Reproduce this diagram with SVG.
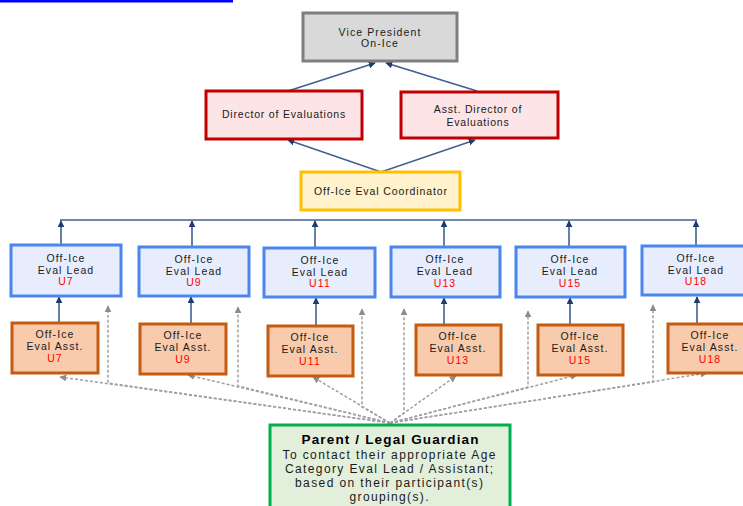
<svg xmlns="http://www.w3.org/2000/svg" width="743" height="506" viewBox="0 0 743 506">
<defs>
<marker id="ah" viewBox="0 0 10 10" refX="9" refY="5" markerWidth="7" markerHeight="7" markerUnits="userSpaceOnUse" orient="auto">
<path d="M0,0 L10,5 L0,10 z" fill="#1f3a6e"/>
</marker>
<marker id="ahg" viewBox="0 0 10 10" refX="9" refY="5" markerWidth="7" markerHeight="7" markerUnits="userSpaceOnUse" orient="auto">
<path d="M0,0 L10,5 L0,10 z" fill="#8c8c8c"/>
</marker>
<style>
text{font-family:"Liberation Sans",Arial,sans-serif;font-size:10.5px;fill:#1a1a1a;text-anchor:middle;letter-spacing:1.1px}
.red{fill:#ff0000}
.vp{fill:#d9d9d9;stroke:#7f7f7f;stroke-width:3}
.dir{fill:#fde4e6;stroke:#c00000;stroke-width:3}
.coord{fill:#fff2cc;stroke:#ffc000;stroke-width:3}
.lead{fill:#e7edfc;stroke:#4a86f0;stroke-width:3}
.asst{fill:#f8cbad;stroke:#c55a11;stroke-width:3}
.par{fill:#e2efda;stroke:#00b050;stroke-width:3}
.c{fill:none;stroke:#41618f;stroke-width:1.6}
.d{fill:none;stroke:#a0a0a0;stroke-width:1.5;stroke-dasharray:3 2}
.pt{font-size:12px;letter-spacing:0}
.pb{font-size:13.5px;font-weight:bold;fill:#000;letter-spacing:0}
</style>
</defs>
<rect x="0" y="0" width="233" height="2.5" fill="#0000ff"/>

<g id="connectors">
<path class="c" d="M288,91 L375,63" marker-end="url(#ah)"/>
<path class="c" d="M477,91 L386,63" marker-end="url(#ah)"/>
<path class="c" d="M381,172 L288,140" marker-end="url(#ah)"/>
<path class="c" d="M381,172 L475,140" marker-end="url(#ah)"/>
<path class="c" d="M60,220 L697,220"/>
<path class="c" d="M61,245 L61,221" marker-end="url(#ah)"/>
<path class="c" d="M192,247 L192,221" marker-end="url(#ah)"/>
<path class="c" d="M315,248 L315,221" marker-end="url(#ah)"/>
<path class="c" d="M444,247 L444,221" marker-end="url(#ah)"/>
<path class="c" d="M569,247 L569,221" marker-end="url(#ah)"/>
<path class="c" d="M696,246 L696,221" marker-end="url(#ah)"/>
<path class="c" d="M59,323 L59,297" marker-end="url(#ah)"/>
<path class="c" d="M191,324 L191,297" marker-end="url(#ah)"/>
<path class="c" d="M316,326 L316,298" marker-end="url(#ah)"/>
<path class="c" d="M444,325 L444,298" marker-end="url(#ah)"/>
<path class="c" d="M570,325 L570,298" marker-end="url(#ah)"/>
<path class="c" d="M697,324 L697,297" marker-end="url(#ah)"/>
<path class="d" d="M390,423 L60,377" marker-end="url(#ahg)"/>
<path class="d" d="M390,423 L108,383 L108,306" marker-end="url(#ahg)"/>
<path class="d" d="M390,423 L188,375" marker-end="url(#ahg)"/>
<path class="d" d="M390,423 L238,386 L238,307" marker-end="url(#ahg)"/>
<path class="d" d="M390,423 L313,377" marker-end="url(#ahg)"/>
<path class="d" d="M390,423 L362,407 L362,309" marker-end="url(#ahg)"/>
<path class="d" d="M390,423 L456,376" marker-end="url(#ahg)"/>
<path class="d" d="M390,423 L404,413 L404,309" marker-end="url(#ahg)"/>
<path class="d" d="M390,423 L577,375" marker-end="url(#ahg)"/>
<path class="d" d="M390,423 L528,387 L528,311" marker-end="url(#ahg)"/>
<path class="d" d="M390,423 L707,373" marker-end="url(#ahg)"/>
<path class="d" d="M390,423 L653,382 L653,305" marker-end="url(#ahg)"/>
</g>

<g id="vp">
<rect class="vp" x="303" y="13" width="154" height="48"/>
<text x="380" y="36">Vice President</text>
<text x="380" y="47">On-Ice</text>
</g>
<g id="director">
<rect class="dir" x="206" y="91" width="156" height="48"/>
<text x="284" y="118" style="letter-spacing:0.8px">Director of Evaluations</text>
</g>
<g id="asst-director">
<rect class="dir" x="401" y="92" width="157" height="46"/>
<text x="478" y="113" style="letter-spacing:0.8px">Asst. Director of</text>
<text x="478" y="126" style="letter-spacing:0.8px">Evaluations</text>
</g>
<g id="coordinator">
<rect class="coord" x="301" y="172" width="159" height="38"/>
<text x="381" y="195" style="letter-spacing:0.9px">Off-Ice Eval Coordinator</text>
</g>

<g id="lead-u7">
<rect class="lead" x="11" y="245" width="110" height="51"/>
<text x="66" y="262">Off-Ice</text><text x="66" y="274">Eval Lead</text><text class="red" x="66" y="285">U7</text>
</g>
<g id="lead-u9">
<rect class="lead" x="139" y="247" width="110" height="49"/>
<text x="194" y="263">Off-Ice</text><text x="194" y="275">Eval Lead</text><text class="red" x="194" y="286">U9</text>
</g>
<g id="lead-u11">
<rect class="lead" x="264" y="248" width="111" height="49"/>
<text x="320" y="264">Off-Ice</text><text x="320" y="276">Eval Lead</text><text class="red" x="320" y="287">U11</text>
</g>
<g id="lead-u13">
<rect class="lead" x="391" y="247" width="109" height="50"/>
<text x="445" y="263">Off-Ice</text><text x="445" y="275">Eval Lead</text><text class="red" x="445" y="287">U13</text>
</g>
<g id="lead-u15">
<rect class="lead" x="516" y="247" width="109" height="50"/>
<text x="570" y="263">Off-Ice</text><text x="570" y="275">Eval Lead</text><text class="red" x="570" y="287">U15</text>
</g>
<g id="lead-u18">
<rect class="lead" x="642" y="246" width="110" height="49"/>
<text x="696" y="262">Off-Ice</text><text x="696" y="274">Eval Lead</text><text class="red" x="696" y="285">U18</text>
</g>

<g id="asst-u7">
<rect class="asst" x="12" y="323" width="86" height="50"/>
<text x="55" y="338">Off-Ice</text><text x="55" y="350">Eval Asst.</text><text class="red" x="55" y="362">U7</text>
</g>
<g id="asst-u9">
<rect class="asst" x="140" y="324" width="86" height="50"/>
<text x="183" y="339">Off-Ice</text><text x="183" y="351">Eval Asst.</text><text class="red" x="183" y="363">U9</text>
</g>
<g id="asst-u11">
<rect class="asst" x="268" y="326" width="85" height="50"/>
<text x="310" y="341">Off-Ice</text><text x="310" y="353">Eval Asst.</text><text class="red" x="310" y="365">U11</text>
</g>
<g id="asst-u13">
<rect class="asst" x="416" y="325" width="85" height="50"/>
<text x="458" y="340">Off-Ice</text><text x="458" y="352">Eval Asst.</text><text class="red" x="458" y="364">U13</text>
</g>
<g id="asst-u15">
<rect class="asst" x="538" y="325" width="85" height="50"/>
<text x="580" y="340">Off-Ice</text><text x="580" y="352">Eval Asst.</text><text class="red" x="580" y="364">U15</text>
</g>
<g id="asst-u18">
<rect class="asst" x="668" y="324" width="85" height="49"/>
<text x="710" y="339">Off-Ice</text><text x="710" y="351">Eval Asst.</text><text class="red" x="710" y="363">U18</text>
</g>

<g id="parent">
<rect class="par" x="270" y="425" width="240" height="90"/>
<text class="pb" x="390" y="444" textLength="177" lengthAdjust="spacing">Parent / Legal Guardian</text>
<text class="pt" x="389" y="459" textLength="213" lengthAdjust="spacing">To contact their appropriate Age</text>
<text class="pt" x="389" y="473" textLength="208" lengthAdjust="spacing">Category Eval Lead / Assistant;</text>
<text class="pt" x="389" y="487" textLength="188" lengthAdjust="spacing">based on their participant(s)</text>
<text class="pt" x="389" y="501" textLength="79" lengthAdjust="spacing">grouping(s).</text>
</g>
</svg>
